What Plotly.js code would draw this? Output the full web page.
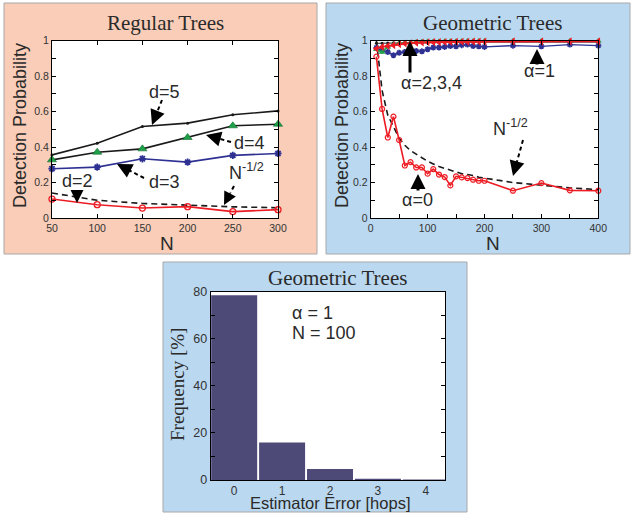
<!DOCTYPE html>
<html><head><meta charset="utf-8">
<script src="https://cdn.plot.ly/plotly-3.0.1.min.js"></script>
<style>html,body{margin:0;padding:0;background:#fff}#chart{width:632px;height:514px}</style>
</head><body><div id="chart"></div>
<script>
// ---------- Regular Trees ----------
const regN  = [50, 100, 150, 200, 250, 300];
const regD5 = [0.356, 0.422, 0.516, 0.535, 0.582, 0.604];
const regD4 = [0.328, 0.371, 0.390, 0.454, 0.520, 0.529];
const regD3 = [0.278, 0.287, 0.334, 0.315, 0.353, 0.364];
const regD2 = [0.107, 0.075, 0.056, 0.064, 0.036, 0.047];
const regRef = [0.141, 0.100, 0.082, 0.071, 0.063, 0.058];

// ---------- Geometric Trees ----------
const geoN  = [10,20,30,40,50,60,70,80,90,100,110,120,130,140,150,160,170,180,190,200,250,300,350,400];
const geoA0 = [0.910,0.615,0.454,0.572,0.440,0.296,0.315,0.285,0.285,0.250,0.276,0.245,0.231,0.184,0.235,0.229,0.225,0.216,0.210,0.210,0.154,0.197,0.156,0.154];
const geoA1 = [0.960,0.945,0.936,0.918,0.932,0.936,0.935,0.942,0.940,0.952,0.962,0.962,0.965,0.970,0.968,0.975,0.978,0.970,0.968,0.965,0.972,0.968,0.978,0.972];
const geoA2 = [0.985,0.986,0.987,0.988,0.988,0.989,0.989,0.990,0.990,0.990,0.990,0.991,0.991,0.991,0.991,0.991,0.992,0.992,0.992,0.992,0.992,0.992,0.992,0.992];
const geoA3 = [0.950,0.935,0.965,0.978,0.985,0.988,0.990,0.992,0.994,0.995,0.996,0.996,0.997,0.997,0.997,0.998,0.998,0.998,0.998,0.998,0.998,0.998,0.998,0.998];
const geoA4 = [0.955,0.965,0.970,0.975,0.980,0.984,0.986,0.988,0.990,0.991,0.992,0.992,0.993,0.993,0.994,0.994,0.994,0.995,0.995,0.995,0.996,0.996,0.996,0.996];
const geoRef = [1.000,0.720,0.580,0.510,0.450,0.410,0.380,0.360,0.340,0.320,0.305,0.290,0.280,0.270,0.260,0.250,0.245,0.240,0.230,0.225,0.200,0.185,0.170,0.160];

// ---------- Histogram ----------
const errHops = [0, 1, 2, 3, 4];
const errFreq = [78.5, 15.9, 4.7, 0.5, 0.2];

const W = 632, H = 514;
const px = x => x / W, py = y => 1 - y / H;

const RED = '#ed1c24', BLUE = '#2e3192', GREEN = '#1fa048', BLACK = '#1a1a1a';
const SANS = 'Liberation Sans, Arial, sans-serif';
const SERIF = 'Liberation Serif, Times New Roman, serif';

const common = {cliponaxis: false, mode: 'lines+markers', hoverinfo: 'skip'};
const traces = [
  // panel 1
  {x: regN, y: regRef, xaxis: 'x', yaxis: 'y', mode: 'lines', line: {color: BLACK, width: 1.6, dash: '6px,4px'}, hoverinfo: 'skip'},
  Object.assign({}, common, {x: regN, y: regD5, xaxis: 'x', yaxis: 'y', line: {color: BLACK, width: 1.6}, marker: {symbol: 'circle', size: 3, color: BLACK}}),
  Object.assign({}, common, {x: regN, y: regD4, xaxis: 'x', yaxis: 'y', line: {color: BLACK, width: 1.6}, marker: {symbol: 'triangle-up', size: 8, color: GREEN, line: {color: '#0e6a2a', width: 0.6}}}),
  Object.assign({}, common, {x: regN, y: regD3, xaxis: 'x', yaxis: 'y', line: {color: BLUE, width: 1.6}, marker: {symbol: 'asterisk-open', size: 6, line: {color: BLUE, width: 1.8}}}),
  Object.assign({}, common, {x: regN, y: regD2, xaxis: 'x', yaxis: 'y', line: {color: RED, width: 1.6}, marker: {symbol: 'circle-open', size: 6, line: {color: RED, width: 1.3}}}),
  // panel 2
  {x: geoN, y: geoRef, xaxis: 'x2', yaxis: 'y2', mode: 'lines', line: {color: BLACK, width: 1.6, dash: '6px,4px'}, hoverinfo: 'skip'},
  Object.assign({}, common, {x: geoN, y: geoA0, xaxis: 'x2', yaxis: 'y2', line: {color: RED, width: 1.6}, marker: {symbol: 'circle-open', size: 5, line: {color: RED, width: 1.2}}}),
  Object.assign({}, common, {x: geoN, y: geoA1, xaxis: 'x2', yaxis: 'y2', line: {color: BLUE, width: 1.4}, marker: {symbol: 'asterisk-open', size: 5, line: {color: BLUE, width: 1.6}}}),
  Object.assign({}, common, {x: geoN, y: geoA2, xaxis: 'x2', yaxis: 'y2', line: {color: '#555', width: 1.4}, marker: {symbol: 'circle', size: 3, color: BLACK}}),
  Object.assign({}, common, {x: geoN, y: geoA3, xaxis: 'x2', yaxis: 'y2', line: {color: GREEN, width: 1.4}, marker: {symbol: 'triangle-up', size: 6, color: GREEN}}),
  Object.assign({}, common, {x: geoN, y: geoA4, xaxis: 'x2', yaxis: 'y2', line: {color: RED, width: 1.8}, marker: {symbol: 'triangle-left', size: 7, color: RED}}),
  // panel 3
  {type: 'bar', x: errHops, y: errFreq, xaxis: 'x3', yaxis: 'y3', width: 0.96, marker: {color: '#4e4a78', line: {width: 0}}, hoverinfo: 'skip'}
];

function axis(extra) {
  return Object.assign({
    showline: true, linecolor: '#000', linewidth: 1, mirror: 'ticks',
    ticks: 'inside', ticklen: 4, tickwidth: 1, tickcolor: '#000',
    showgrid: false, zeroline: false, fixedrange: true,
    tickfont: {family: SANS, size: 10.5, color: '#333'}
  }, extra);
}

const shapes = [
  {type: 'rect', xref: 'paper', yref: 'paper', x0: px(4), x1: px(317), y0: py(3), y1: py(254), fillcolor: '#f9cdb8', line: {color: '#a8a8a8', width: 1}, layer: 'below'},
  {type: 'rect', xref: 'paper', yref: 'paper', x0: px(326), x1: px(630), y0: py(3), y1: py(254), fillcolor: '#bad8ef', line: {color: '#a8a8a8', width: 1}, layer: 'below'},
  {type: 'rect', xref: 'paper', yref: 'paper', x0: px(163), x1: px(467), y0: py(262), y1: py(512), fillcolor: '#bad8ef', line: {color: '#a8a8a8', width: 1}, layer: 'below'},
  {type: 'rect', xref: 'paper', yref: 'paper', x0: px(52), x1: px(278), y0: py(218), y1: py(40.7), fillcolor: '#fff', line: {width: 0}, layer: 'below'},
  {type: 'rect', xref: 'paper', yref: 'paper', x0: px(370.7), x1: px(598.3), y0: py(218), y1: py(40.7), fillcolor: '#fff', line: {width: 0}, layer: 'below'},
  {type: 'rect', xref: 'paper', yref: 'paper', x0: px(210.7), x1: px(445), y0: py(480), y1: py(291.7), fillcolor: '#fff', line: {width: 0}, layer: 'below'}
];

const annotations = [];
function txt(text, x, y, size, opts) {
  annotations.push(Object.assign({text: text, xref: 'paper', yref: 'paper', x: px(x), y: py(y), showarrow: false,
    xanchor: 'center', yanchor: 'middle', font: {family: SANS, size: size, color: '#2a2a2a'}}, opts || {}));
}
function arrow(tail, tip, dashed, width, size) {
  const dx = tail[0] - tip[0], dy = tail[1] - tip[1];
  const L = Math.hypot(dx, dy), ux = dx / L, uy = dy / L;
  if (dashed) {
    const head = Math.min(15, L);
    const base = [tip[0] + ux * (head - 1), tip[1] + uy * (head - 1)];
    if (L > head) {
      shapes.push({type: 'line', xref: 'paper', yref: 'paper', x0: px(tail[0]), y0: py(tail[1]), x1: px(base[0]), y1: py(base[1]),
        line: {color: '#000', width: width, dash: '4px,3px'}});
    }
    annotations.push({text: '', xref: 'paper', yref: 'paper', x: px(tip[0]), y: py(tip[1]), showarrow: true,
      ax: ux * head, ay: uy * head, arrowhead: 2, arrowsize: size, arrowwidth: width, arrowcolor: '#000', standoff: 0});
  } else {
    annotations.push({text: '', xref: 'paper', yref: 'paper', x: px(tip[0]), y: py(tip[1]), showarrow: true,
      ax: dx, ay: dy, arrowhead: 2, arrowsize: size, arrowwidth: width, arrowcolor: '#000', standoff: 0});
  }
}

// titles
txt('Regular Trees', 165, 23, 21, {font: {family: SERIF, size: 21, color: '#2a2a2a'}});
txt('Geometric Trees', 492, 23, 21, {font: {family: SERIF, size: 21, color: '#2a2a2a'}});
txt('Geometric Trees', 337, 278, 21, {font: {family: SERIF, size: 21, color: '#2a2a2a'}});
// axis titles
txt('Detection Probability', 20, 126, 18, {textangle: -90});
txt('Detection Probability', 342, 126, 18, {textangle: -90});
txt('N', 167, 243, 19);
txt('N', 493, 243, 19);
txt('Frequency [%]', 177, 385, 19, {textangle: -90, font: {family: SERIF, size: 19, color: '#2a2a2a'}});
txt('Estimator Error [hops]', 330, 503, 16.5);

// panel 1 labels & arrows
txt('d=5', 164, 92, 18);
txt('d=4', 249, 143, 18);
txt('d=3', 164, 182, 18);
txt('d=2', 77, 181, 18);
txt('N<sup>-1/2</sup>', 247, 172, 18);
arrow([162, 100], [152, 125], true, 2, 1.5);
arrow([231, 142], [206, 135], true, 2, 1.5);
arrow([144, 178], [117, 164], true, 2, 1.5);
arrow([77, 189], [77, 203], true, 2, 1.3);
arrow([234, 186], [224, 205], true, 2, 1.3);

// panel 2 labels & arrows
txt('α=2,3,4', 431, 83, 18);
txt('α=1', 539, 71, 18);
txt('N<sup>-1/2</sup>', 510, 127, 18);
txt('α=0', 417, 200, 18);
arrow([410, 74], [410, 41], false, 3, 1);
arrow([537, 66], [537, 49], false, 3, 1);
arrow([523, 140], [513, 176], true, 2, 1.5);
arrow([418, 192], [418, 174], false, 3, 1);

// panel 3 labels
txt('α = 1', 290, 313, 18, {xanchor: 'left'});
txt('N = 100', 290, 333, 18, {xanchor: 'left'});

const layout = {
  width: W, height: H, margin: {l: 0, r: 0, t: 0, b: 0},
  paper_bgcolor: '#ffffff', plot_bgcolor: 'rgba(0,0,0,0)', showlegend: false,
  xaxis: axis({domain: [px(52), px(278)], anchor: 'y', range: [50, 300], tickvals: [50,100,150,200,250,300]}),
  yaxis: axis({domain: [py(218), py(40.7)], anchor: 'x', range: [0, 1], tickvals: [0,0.2,0.4,0.6,0.8,1], ticktext: ['0','0.2','0.4','0.6','0.8','1'],
    minor: {ticks: 'inside', ticklen: 4, dtick: 0.1, tickcolor: '#000'}}),
  xaxis2: axis({domain: [px(370.7), px(598.3)], anchor: 'y2', range: [0, 400], tickvals: [0,100,200,300,400],
    minor: {ticks: 'inside', ticklen: 4, dtick: 50, tickcolor: '#000'}}),
  yaxis2: axis({domain: [py(218), py(40.7)], anchor: 'x2', range: [0, 1], tickvals: [0,0.2,0.4,0.6,0.8,1], ticktext: ['0','0.2','0.4','0.6','0.8','1'],
    minor: {ticks: 'inside', ticklen: 4, dtick: 0.1, tickcolor: '#000'}}),
  xaxis3: axis({domain: [px(210.7), px(445)], anchor: 'y3', range: [-0.49, 4.4], tickvals: [0,1,2,3,4], ticks: '', mirror: true,
    tickfont: {family: SANS, size: 12, color: '#333'}}),
  yaxis3: axis({domain: [py(480), py(291.7)], anchor: 'x3', range: [0, 80], tickvals: [0,20,40,60,80],
    minor: {ticks: 'inside', ticklen: 4, dtick: 10, tickcolor: '#000'}, tickfont: {family: SANS, size: 12.5, color: '#333'}}),
  shapes: shapes,
  annotations: annotations
};

Plotly.newPlot('chart', traces, layout, {staticPlot: true, displayModeBar: false});
</script>
</body></html>
